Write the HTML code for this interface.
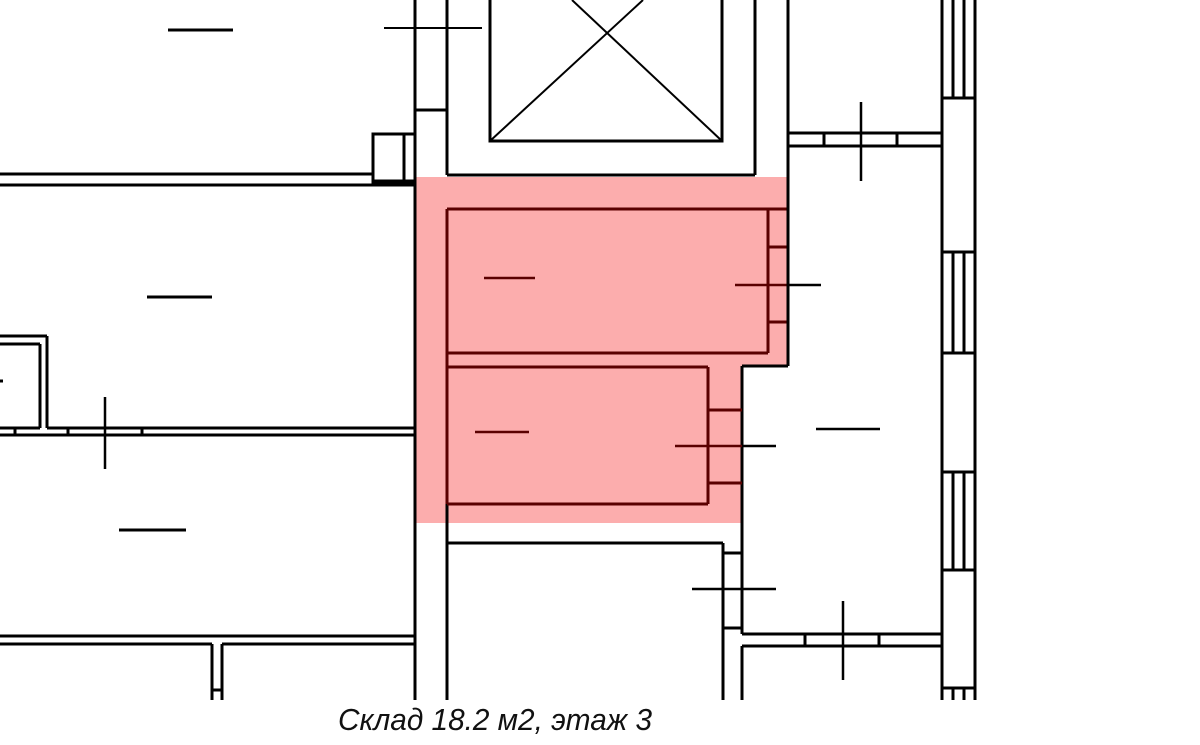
<!DOCTYPE html>
<html><head><meta charset="utf-8"><style>
html,body{margin:0;padding:0;background:#fff;}
svg{display:block;}
</style></head><body>
<svg width="1200" height="745" viewBox="0 0 1200 745" xmlns="http://www.w3.org/2000/svg">
<rect width="1200" height="745" fill="#fff"/>
<polygon points="415,177 788,177 788,366 742,366 742,523 415,523" fill="#fcadad"/>
<g stroke="#000" stroke-width="3" fill="none" stroke-linecap="butt">
  <line x1="0" y1="174" x2="372" y2="174"/>
  <line x1="0" y1="185" x2="415" y2="185"/>
  <rect x="373" y="134" width="31" height="48"/>
  <line x1="372" y1="182" x2="415" y2="182" stroke-width="5"/>
  <line x1="372" y1="134" x2="415" y2="134"/>
  <line x1="415" y1="0" x2="415" y2="700"/>
  <line x1="447" y1="0" x2="447" y2="175"/>
  <line x1="415" y1="110" x2="447" y2="110"/>
  <line x1="447" y1="175" x2="755" y2="175"/>
  <line x1="755" y1="0" x2="755" y2="175"/>
  <rect x="490" y="-5" width="232" height="146"/>
  <line x1="490" y1="141" x2="643" y2="0" stroke-width="2"/>
  <line x1="722" y1="141" x2="572" y2="0" stroke-width="2"/>
  <line x1="384" y1="28" x2="482" y2="28" stroke-width="2"/>
  <line x1="168" y1="30" x2="233" y2="30"/>
  <line x1="788" y1="0" x2="788" y2="366"/>
  <line x1="788" y1="133" x2="942" y2="133"/>
  <line x1="788" y1="146" x2="942" y2="146"/>
  <line x1="824" y1="133" x2="824" y2="146"/>
  <line x1="897" y1="133" x2="897" y2="146"/>
  <line x1="861" y1="102" x2="861" y2="181" stroke-width="2.5"/>
  <line x1="942" y1="0" x2="942" y2="700"/>
  <line x1="975" y1="0" x2="975" y2="700"/>
  <line x1="942" y1="98" x2="975" y2="98"/>
  <line x1="942" y1="252" x2="975" y2="252"/>
  <line x1="942" y1="353" x2="975" y2="353"/>
  <line x1="942" y1="472" x2="975" y2="472"/>
  <line x1="942" y1="570" x2="975" y2="570"/>
  <line x1="942" y1="688" x2="975" y2="688"/>
  <line x1="953" y1="0" x2="953" y2="98"/><line x1="964" y1="0" x2="964" y2="98"/>
  <line x1="953" y1="252" x2="953" y2="353"/><line x1="964" y1="252" x2="964" y2="353"/>
  <line x1="953" y1="472" x2="953" y2="570"/><line x1="964" y1="472" x2="964" y2="570"/>
  <line x1="953" y1="688" x2="953" y2="700"/><line x1="964" y1="688" x2="964" y2="700"/>
  <line x1="742" y1="366" x2="788" y2="366"/>
  <line x1="742" y1="366" x2="742" y2="634"/>
  <line x1="816" y1="429" x2="880" y2="429" stroke-width="2.5"/>
  <line x1="447" y1="504" x2="447" y2="700"/>
  <line x1="447" y1="543" x2="723" y2="543"/>
  <line x1="723" y1="543" x2="723" y2="700"/>
  <line x1="723" y1="553" x2="742" y2="553"/>
  <line x1="723" y1="628" x2="742" y2="628"/>
  <line x1="692" y1="589" x2="776" y2="589" stroke-width="2.5"/>
  <line x1="742" y1="634" x2="942" y2="634"/>
  <line x1="742" y1="646" x2="942" y2="646"/>
  <line x1="742" y1="646" x2="742" y2="700"/>
  <line x1="805" y1="634" x2="805" y2="646"/>
  <line x1="879" y1="634" x2="879" y2="646"/>
  <line x1="843" y1="601" x2="843" y2="680" stroke-width="2.5"/>
  <line x1="147" y1="297" x2="212" y2="297"/>
  <line x1="0" y1="336" x2="47" y2="336"/>
  <line x1="47" y1="336" x2="47" y2="428"/>
  <line x1="0" y1="344" x2="40" y2="344"/>
  <line x1="40" y1="344" x2="40" y2="428"/>
  <line x1="0" y1="381" x2="3" y2="381"/>
  <line x1="0" y1="428" x2="40" y2="428"/>
  <line x1="47" y1="428" x2="415" y2="428"/>
  <line x1="0" y1="435" x2="415" y2="435"/>
  <line x1="15" y1="428" x2="15" y2="435"/>
  <line x1="68" y1="428" x2="68" y2="435"/>
  <line x1="142" y1="428" x2="142" y2="435"/>
  <line x1="105" y1="397" x2="105" y2="469" stroke-width="2.5"/>
  <line x1="119" y1="530" x2="186" y2="530"/>
  <line x1="0" y1="636" x2="415" y2="636"/>
  <line x1="0" y1="644" x2="212" y2="644"/>
  <line x1="222" y1="644" x2="415" y2="644"/>
  <line x1="212" y1="644" x2="212" y2="700"/>
  <line x1="222" y1="644" x2="222" y2="700"/>
  <line x1="212" y1="690" x2="222" y2="690"/>
</g>
<g stroke="#5a0000" stroke-width="3" fill="none">
  <line x1="447" y1="209" x2="788" y2="209"/>
  <line x1="447" y1="209" x2="447" y2="504"/>
  <line x1="447" y1="353" x2="768" y2="353"/>
  <line x1="768" y1="209" x2="768" y2="353"/>
  <line x1="768" y1="247" x2="788" y2="247"/>
  <line x1="768" y1="322" x2="788" y2="322"/>
  <line x1="735" y1="285" x2="788" y2="285" stroke-width="2.5"/>
  <line x1="484" y1="278" x2="535" y2="278" stroke-width="2.5"/>
  <line x1="447" y1="367" x2="708" y2="367"/>
  <line x1="708" y1="367" x2="708" y2="504"/>
  <line x1="447" y1="504" x2="708" y2="504"/>
  <line x1="708" y1="410" x2="742" y2="410"/>
  <line x1="708" y1="483" x2="742" y2="483"/>
  <line x1="675" y1="446" x2="742" y2="446" stroke-width="2.5"/>
  <line x1="475" y1="432" x2="529" y2="432" stroke-width="2.5"/>
</g>
<g stroke="#000" stroke-width="2.5">
  <line x1="788" y1="285" x2="821" y2="285"/>
  <line x1="742" y1="446" x2="776" y2="446"/>
  <line x1="788" y1="177" x2="788" y2="366" stroke-width="3"/>
</g>
<text x="495" y="730" text-anchor="middle" font-family="Liberation Sans, sans-serif" font-style="italic" font-size="31" fill="#111" textLength="314" lengthAdjust="spacingAndGlyphs">Склад 18.2 м2, этаж 3</text>
</svg>
</body></html>
